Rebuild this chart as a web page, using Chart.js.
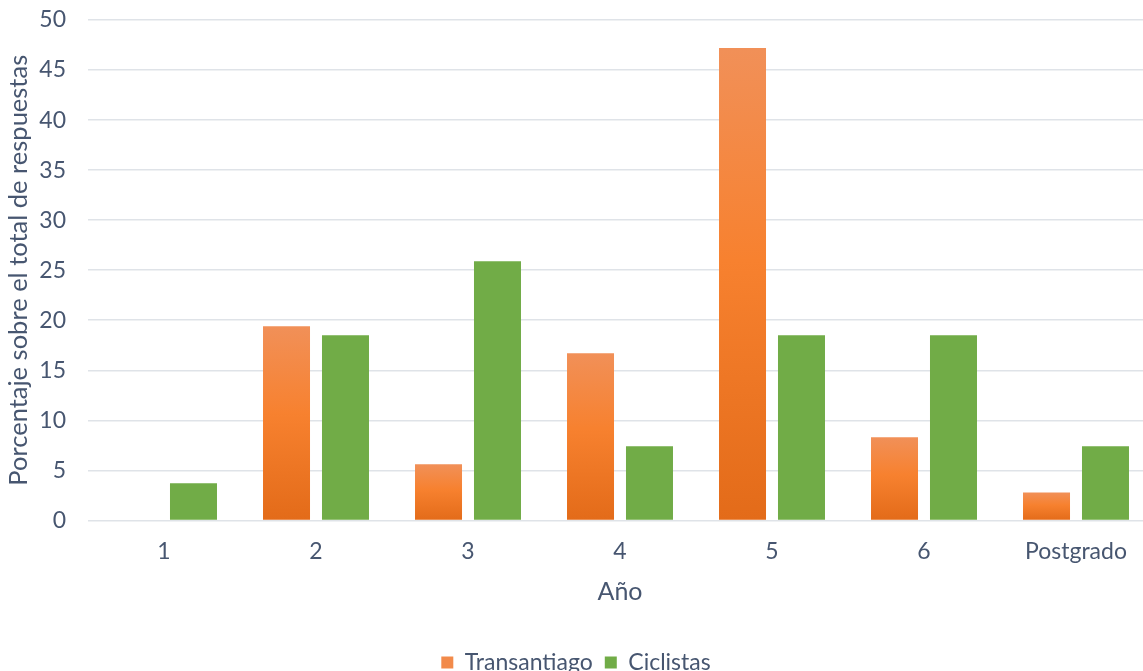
<!DOCTYPE html>
<html>
<head>
<meta charset="utf-8">
<script src="https://cdn.jsdelivr.net/npm/chart.js@4.4.1/dist/chart.umd.min.js"></script>
<style>
  html, body { margin: 0; padding: 0; background: #fff; overflow: hidden; }
  #wrap { width: 1152px; height: 684px; position: relative; }
</style>
</head>
<body>
<div id="wrap"><canvas id="c" width="1152" height="684"></canvas></div>
<script>
const categories = ['1', '2', '3', '4', '5', '6', 'Postgrado'];
const transantiago = [0, 19.4, 5.6, 16.7, 47.2, 8.3, 2.8];
const ciclistas = [3.7, 18.5, 25.9, 7.4, 18.5, 18.5, 7.4];
const yTicks = [0, 5, 10, 15, 20, 25, 30, 35, 40, 45, 50];

const textColor = '#475670';
const fontFamily = 'Lato, "Open Sans", sans-serif';

function orangeGradient(ctx) {
  const chart = ctx.chart;
  const c = chart.ctx;
  const ys = chart.scales && chart.scales.y;
  if (!ys || ctx.type !== 'data') return '#F47F30';
  const top = ys.getPixelForValue(ctx.raw);
  const base = ys.getPixelForValue(0);
  if (!isFinite(top) || !isFinite(base) || top === base) return '#F47F30';
  const g = c.createLinearGradient(0, top, 0, base);
  g.addColorStop(0, '#F19058');
  g.addColorStop(0.45, '#F7812F');
  g.addColorStop(1, '#E36B19');
  return g;
}

new Chart(document.getElementById('c'), {
  type: 'bar',
  data: {
    labels: categories,
    datasets: [
      { label: 'Transantiago', data: transantiago, backgroundColor: orangeGradient,
        categoryPercentage: 0.776, barPercentage: 0.797 },
      { label: 'Ciclistas', data: ciclistas, backgroundColor: '#71AC47',
        categoryPercentage: 0.776, barPercentage: 0.797 }
    ]
  },
  options: {
    responsive: false,
    animation: false,
    layout: { padding: { top: 20, left: 0, right: 0, bottom: 0 } },
    plugins: {
      tooltip: { enabled: false },
      legend: {
        position: 'bottom',
        labels: {
          color: textColor,
          font: { family: fontFamily, size: 23 },
          boxWidth: 12, boxHeight: 12, padding: 12,
          generateLabels(chart) {
            return chart.data.datasets.map((ds, i) => ({
              text: ds.label,
              fillStyle: i === 0 ? '#F28A4A' : '#71AC47',
              strokeStyle: 'rgba(0,0,0,0)',
              lineWidth: 0,
              hidden: false,
              datasetIndex: i,
              fontColor: textColor
            }));
          }
        }
      }
    },
    scales: {
      x: {
        grid: { display: false, drawTicks: false },
        border: { display: false },
        ticks: { color: textColor, font: { family: fontFamily, size: 23 }, padding: 17 },
        title: { display: true, text: 'Año', color: textColor,
                 font: { family: fontFamily, size: 25 }, padding: { top: -5, bottom: 32 } }
      },
      y: {
        min: 0, max: 50,
        afterBuildTicks(axis) { axis.ticks = yTicks.map(v => ({ value: v })); },
        afterFit(scale) { scale.width = 88; scale.paddingTop = 0; scale.paddingBottom = 0; },
        grid: { color: '#dfe3e8', lineWidth: 1.5, drawTicks: false },
        border: { display: false },
        ticks: { color: textColor, font: { family: fontFamily, size: 23 }, padding: 22 },
        title: { display: true, text: 'Porcentaje sobre el total de respuestas', color: textColor,
                 font: { family: fontFamily, size: 25.5 }, padding: { top: 3, bottom: 6 } }
      }
    }
  }
});
</script>
</body>
</html>
